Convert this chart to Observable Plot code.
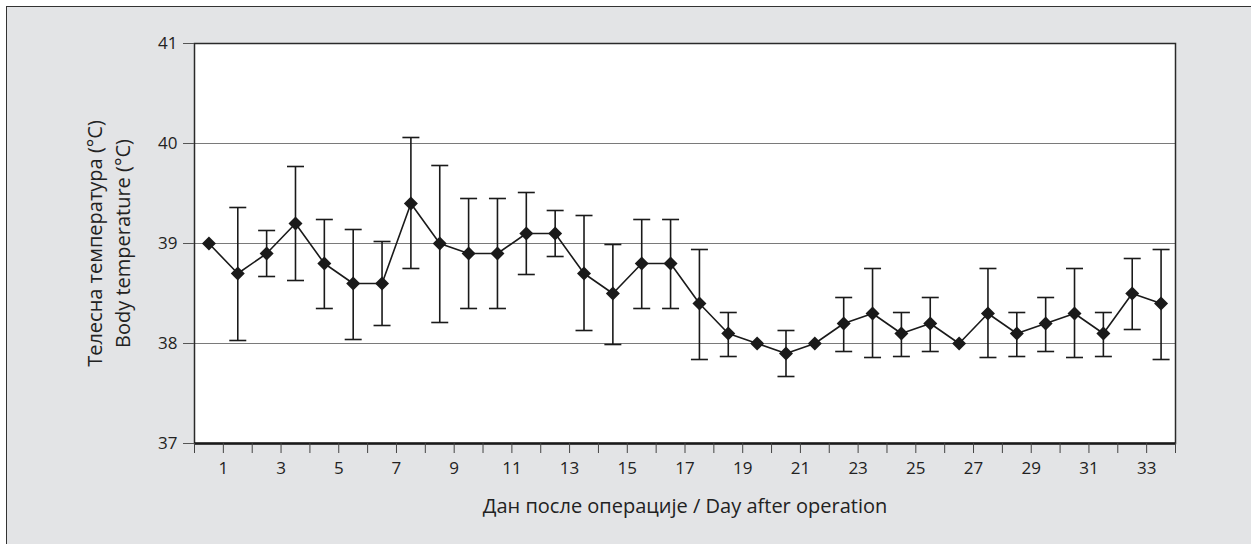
<!DOCTYPE html>
<html>
<head>
<meta charset="utf-8">
<script src="https://cdn.jsdelivr.net/npm/d3@7"></script>
<script src="https://cdn.jsdelivr.net/npm/@observablehq/plot@0.6"></script>
<style>
  html, body { margin: 0; padding: 0; width: 1251px; height: 544px; overflow: hidden; background: #ffffff; }
  #panel { position: absolute; left: 6px; top: 6px; width: 1270px; height: 560px; background: #e3e4e6; border-top: 1.5px solid #333; border-left: 1.5px solid #333; box-sizing: border-box; }
  #chart { position: absolute; left: 0; top: 0; }
</style>
</head>
<body>
<div id="panel"></div>
<div id="chart"></div>
<script>
// Day after operation (categories)
const days = [1,2,3,4,5,6,7,8,9,10,11,12,13,14,15,16,17,18,19,20,21,22,23,24,25,26,27,28,29,30,31,32,33,34];
// Mean body temperature (°C)
const meanTemp = [39.0, 38.7, 38.9, 39.2, 38.8, 38.6, 38.6, 39.4, 39.0, 38.9, 38.9, 39.1, 39.1, 38.7, 38.5, 38.8, 38.8, 38.4, 38.1, 38.0, 37.9, 38.0, 38.2, 38.3, 38.1, 38.2, 38.0, 38.3, 38.1, 38.2, 38.3, 38.1, 38.5, 38.4];
// Upper / lower error-bar ends (null = no bar)
const upperTemp = [null, 39.36, 39.13, 39.77, 39.24, 39.14, 39.02, 40.06, 39.78, 39.45, 39.45, 39.51, 39.33, 39.28, 38.99, 39.24, 39.24, 38.94, 38.31, null, 38.13, null, 38.46, 38.75, 38.31, 38.46, null, 38.75, 38.31, 38.46, 38.75, 38.31, 38.85, 38.94];
const lowerTemp = [null, 38.03, 38.67, 38.63, 38.35, 38.04, 38.18, 38.75, 38.21, 38.35, 38.35, 38.69, 38.87, 38.13, 37.99, 38.35, 38.35, 37.84, 37.87, null, 37.67, null, 37.92, 37.86, 37.87, 37.92, null, 37.86, 37.87, 37.92, 37.86, 37.87, 38.14, 37.84];
// Axis ticks
const xTicks = [0,1,2,3,4,5,6,7,8,9,10,11,12,13,14,15,16,17,18,19,20,21,22,23,24,25,26,27,28,29,30,31,32,33,34];
const xTickLabels = [1,3,5,7,9,11,13,15,17,19,21,23,25,27,29,31,33];
const yTicks = [37, 38, 39, 40, 41];
const yGrid = [38, 39, 40];
const yTitleLines = ["Телесна температура (°C)", "Body temperature (°C)"];
const xTitle = "Дан после операције / Day after operation";

const rows = days.map((d, i) => ({day: d, mean: meanTemp[i], hi: upperTemp[i], lo: lowerTemp[i]}));
const bars = rows.filter(r => r.hi != null);
const pos = r => r.day - 0.5; // points sit between the category ticks

const capSymbol = { draw(context) { context.moveTo(-8.5, 0); context.lineTo(8.5, 0); } };

const chart = Plot.plot({
  width: 1251,
  height: 544,
  marginLeft: 194,
  marginRight: 76,
  marginTop: 43,
  marginBottom: 101,
  style: { fontFamily: "'Open Sans', sans-serif", fontSize: "17px", background: "transparent", color: "#222" },
  x: { type: "linear", domain: [0, 34] },
  y: { domain: [37, 41] },
  marks: [
    Plot.frame({ fill: "white", stroke: null }),
    Plot.ruleY(yGrid, { stroke: "#7a7a7a", strokeWidth: 1.2 }),
    Plot.ruleX(bars, { x: pos, y1: "lo", y2: "hi", stroke: "#1a1a1a", strokeWidth: 1.6 }),
    Plot.dot(bars, { x: pos, y: "hi", symbol: capSymbol, stroke: "#1a1a1a", strokeWidth: 1.6, fill: "none" }),
    Plot.dot(bars, { x: pos, y: "lo", symbol: capSymbol, stroke: "#1a1a1a", strokeWidth: 1.6, fill: "none" }),
    Plot.line(rows, { x: pos, y: "mean", stroke: "#1a1a1a", strokeWidth: 1.6 }),
    Plot.dot(rows, { x: pos, y: "mean", symbol: "diamond2", r: 6.3, fill: "#1a1a1a", stroke: "none" }),
    Plot.frame({ stroke: "#2a2a2a", strokeWidth: 1.5 }),
    Plot.ruleY([37], { stroke: "#1a1a1a", strokeWidth: 2.5 }),
    Plot.axisX({ ticks: xTicks, tickFormat: d => xTickLabels.includes(d) ? String(d) : "", tickSize: 10, tickPadding: 8, fontSize: 17, label: null, stroke: "#444", fill: "#222" }),
    Plot.axisY({ ticks: yTicks, tickFormat: d => String(d), tickSize: 11, tickPadding: 6, fontSize: 17, label: null, stroke: "#555", fill: "#222" }),
    Plot.text([yTitleLines[0]], { text: d => d, frameAnchor: "left", textAnchor: "middle", dx: -99, rotate: -90, fontSize: 20, fill: "#222" }),
    Plot.text([yTitleLines[1]], { text: d => d, frameAnchor: "left", textAnchor: "middle", dx: -71, rotate: -90, fontSize: 20, fill: "#222" }),
    Plot.text([xTitle], { text: d => d, frameAnchor: "bottom", dy: 69, fontSize: 20, fill: "#222" })
  ]
});
document.getElementById("chart").appendChild(chart);
</script>
</body>
</html>
